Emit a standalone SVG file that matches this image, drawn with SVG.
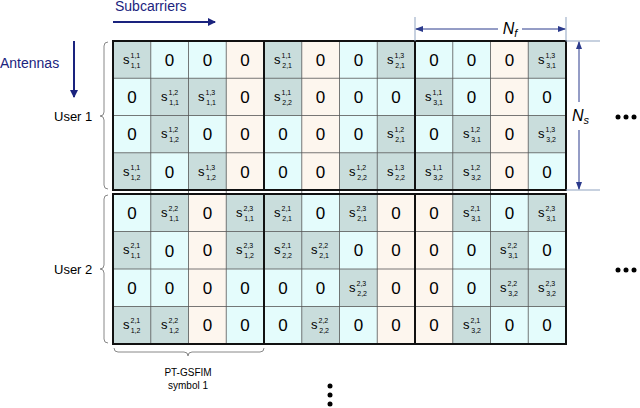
<svg xmlns="http://www.w3.org/2000/svg" width="640" height="408" viewBox="0 0 640 408">
<style>
text{font-family:"Liberation Sans",Arial,sans-serif;fill:#000}
.z{font-size:17px;text-anchor:middle}
.s{font-size:13px}
.sm{font-size:7px}
.c{fill:#e4fcfc}.p{fill:#fdf6ee}.g{fill:#c9dddc}
.thin{stroke:#555;stroke-width:0.8;fill:none}
.thick{stroke:#111;stroke-width:2;fill:none}
.blue{stroke:#1a237e;stroke-width:2;fill:none}
.dim{stroke:#2b3a8c;stroke-width:1;fill:none}
.ext{stroke:#8fa3c0;stroke-width:1;fill:none}
.brace{stroke:#888;stroke-width:1;fill:none}
.lbl{font-size:13px}
</style>
<defs>
<marker id="ah" markerWidth="8" markerHeight="8" refX="7" refY="4" orient="auto" markerUnits="userSpaceOnUse"><path d="M0,0 L8,4 L0,8 z" fill="#1a237e"/></marker>
<marker id="sh" markerWidth="8" markerHeight="6" refX="7" refY="3" orient="auto-start-reverse" markerUnits="userSpaceOnUse"><path d="M0,0 L8,3 L0,6 z" fill="#2b3a8c"/></marker>
</defs>
<g id="grid">
<rect x="113" y="41" width="453" height="149" class="c"/>
<rect x="113" y="194" width="453" height="150" class="c"/>
<rect x="226.25" y="41" width="37.75" height="149" class="p"/>
<rect x="301.75" y="41" width="37.75" height="149" class="p"/>
<rect x="490.5" y="41" width="37.75" height="149" class="p"/>
<rect x="188.5" y="194" width="37.75" height="150" class="p"/>
<rect x="377.25" y="194" width="75.5" height="150" class="p"/>
<g class="g">
<rect x="113" y="41" width="37.75" height="37.25"/><rect x="264" y="41" width="37.75" height="37.25"/><rect x="377.25" y="41" width="37.75" height="37.25"/><rect x="528.25" y="41" width="37.75" height="37.25"/>
<rect x="150.75" y="78.25" width="75.5" height="37.25"/><rect x="264" y="78.25" width="37.75" height="37.25"/><rect x="415" y="78.25" width="37.75" height="37.25"/>
<rect x="150.75" y="115.5" width="37.75" height="37.25"/><rect x="377.25" y="115.5" width="37.75" height="37.25"/><rect x="452.75" y="115.5" width="37.75" height="37.25"/><rect x="528.25" y="115.5" width="37.75" height="37.25"/>
<rect x="113" y="152.75" width="37.75" height="37.25"/><rect x="188.5" y="152.75" width="37.75" height="37.25"/><rect x="339.5" y="152.75" width="151" height="37.25"/>
<rect x="150.75" y="194" width="37.75" height="37.5"/><rect x="226.25" y="194" width="75.5" height="37.5"/><rect x="339.5" y="194" width="37.75" height="37.5"/><rect x="452.75" y="194" width="37.75" height="37.5"/><rect x="528.25" y="194" width="37.75" height="37.5"/>
<rect x="113" y="231.5" width="37.75" height="37.5"/><rect x="226.25" y="231.5" width="113.25" height="37.5"/><rect x="490.5" y="231.5" width="37.75" height="37.5"/>
<rect x="339.5" y="269" width="37.75" height="37.5"/><rect x="490.5" y="269" width="75.5" height="37.5"/>
<rect x="113" y="306.5" width="75.5" height="37.5"/><rect x="301.75" y="306.5" width="37.75" height="37.5"/><rect x="452.75" y="306.5" width="37.75" height="37.5"/>
</g>
<path class="thin" d="M150.75,41V344M188.5,41V344M226.25,41V344M301.75,41V344M339.5,41V344M377.25,41V344M452.75,41V344M490.5,41V344M528.25,41V344M113,78.25H566M113,115.5H566M113,152.75H566M113,231.5H566M113,269H566M113,306.5H566"/>
<path class="thick" d="M113,41H566V190H113ZM113,194H566V344H113ZM264,41V190M415,41V190M264,194V344M415,194V344"/>
</g>
<g id="cells">
<g class="z">
<text x="169.6" y="66">0</text><text x="207.4" y="66">0</text><text x="245.1" y="66">0</text><text x="320.6" y="66">0</text><text x="358.4" y="66">0</text><text x="433.9" y="66">0</text><text x="471.6" y="66">0</text><text x="509.4" y="66">0</text>
<text x="131.9" y="103">0</text><text x="245.1" y="103">0</text><text x="320.6" y="103">0</text><text x="358.4" y="103">0</text><text x="396.1" y="103">0</text><text x="471.6" y="103">0</text><text x="509.4" y="103">0</text><text x="547.1" y="103">0</text>
<text x="131.9" y="140">0</text><text x="207.4" y="140">0</text><text x="245.1" y="140">0</text><text x="282.9" y="140">0</text><text x="320.6" y="140">0</text><text x="358.4" y="140">0</text><text x="433.9" y="140">0</text><text x="509.4" y="140">0</text>
<text x="169.6" y="178">0</text><text x="245.1" y="178">0</text><text x="282.9" y="178">0</text><text x="320.6" y="178">0</text><text x="509.4" y="178">0</text><text x="547.1" y="178">0</text>
<text x="131.9" y="219">0</text><text x="207.4" y="219">0</text><text x="320.6" y="219">0</text><text x="396.1" y="219">0</text><text x="433.9" y="219">0</text><text x="509.4" y="219">0</text>
<text x="169.6" y="257">0</text><text x="207.4" y="256">0</text><text x="358.4" y="256">0</text><text x="396.1" y="256">0</text><text x="433.9" y="256">0</text><text x="471.6" y="256">0</text><text x="547.1" y="256">0</text>
<text x="131.9" y="294">0</text><text x="169.6" y="294">0</text><text x="207.4" y="294">0</text><text x="245.1" y="294">0</text><text x="282.9" y="294">0</text><text x="320.6" y="294">0</text><text x="396.1" y="294">0</text><text x="433.9" y="294">0</text><text x="471.6" y="294">0</text>
<text x="207.4" y="331">0</text><text x="245.1" y="331">0</text><text x="282.9" y="331">0</text><text x="358.4" y="331">0</text><text x="396.1" y="331">0</text><text x="433.9" y="331">0</text><text x="509.4" y="331">0</text><text x="547.1" y="331">0</text>
</g>
<g class="s">
<text x="123" y="64">s<tspan class="sm" dx="1" dy="-6">1,1</tspan><tspan class="sm" dx="-9" dy="10">1,1</tspan></text>
<text x="274" y="64">s<tspan class="sm" dx="1" dy="-6">1,1</tspan><tspan class="sm" dx="-9" dy="10">2,1</tspan></text>
<text x="387" y="64">s<tspan class="sm" dx="1" dy="-6">1,3</tspan><tspan class="sm" dx="-9" dy="10">2,1</tspan></text>
<text x="538" y="64">s<tspan class="sm" dx="1" dy="-6">1,3</tspan><tspan class="sm" dx="-9" dy="10">3,1</tspan></text>
<text x="161" y="101">s<tspan class="sm" dx="1" dy="-6">1,2</tspan><tspan class="sm" dx="-9" dy="10">1,1</tspan></text>
<text x="198" y="101">s<tspan class="sm" dx="1" dy="-6">1,3</tspan><tspan class="sm" dx="-9" dy="10">1,1</tspan></text>
<text x="274" y="101">s<tspan class="sm" dx="1" dy="-6">1,1</tspan><tspan class="sm" dx="-9" dy="10">2,2</tspan></text>
<text x="425" y="101">s<tspan class="sm" dx="1" dy="-6">1,1</tspan><tspan class="sm" dx="-9" dy="10">3,1</tspan></text>
<text x="161" y="138">s<tspan class="sm" dx="1" dy="-6">1,2</tspan><tspan class="sm" dx="-9" dy="10">1,2</tspan></text>
<text x="387" y="138">s<tspan class="sm" dx="1" dy="-6">1,2</tspan><tspan class="sm" dx="-9" dy="10">2,1</tspan></text>
<text x="463" y="138">s<tspan class="sm" dx="1" dy="-6">1,2</tspan><tspan class="sm" dx="-9" dy="10">3,1</tspan></text>
<text x="538" y="138">s<tspan class="sm" dx="1" dy="-6">1,3</tspan><tspan class="sm" dx="-9" dy="10">3,2</tspan></text>
<text x="123" y="176">s<tspan class="sm" dx="1" dy="-6">1,1</tspan><tspan class="sm" dx="-9" dy="10">1,2</tspan></text>
<text x="198" y="176">s<tspan class="sm" dx="1" dy="-6">1,3</tspan><tspan class="sm" dx="-9" dy="10">1,2</tspan></text>
<text x="349" y="176">s<tspan class="sm" dx="1" dy="-6">1,2</tspan><tspan class="sm" dx="-9" dy="10">2,2</tspan></text>
<text x="387" y="176">s<tspan class="sm" dx="1" dy="-6">1,3</tspan><tspan class="sm" dx="-9" dy="10">2,2</tspan></text>
<text x="425" y="176">s<tspan class="sm" dx="1" dy="-6">1,1</tspan><tspan class="sm" dx="-9" dy="10">3,2</tspan></text>
<text x="463" y="176">s<tspan class="sm" dx="1" dy="-6">1,2</tspan><tspan class="sm" dx="-9" dy="10">3,2</tspan></text>
<text x="161" y="217">s<tspan class="sm" dx="1" dy="-6">2,2</tspan><tspan class="sm" dx="-9" dy="10">1,1</tspan></text>
<text x="236" y="217">s<tspan class="sm" dx="1" dy="-6">2,3</tspan><tspan class="sm" dx="-9" dy="10">1,1</tspan></text>
<text x="274" y="217">s<tspan class="sm" dx="1" dy="-6">2,1</tspan><tspan class="sm" dx="-9" dy="10">2,1</tspan></text>
<text x="349" y="217">s<tspan class="sm" dx="1" dy="-6">2,3</tspan><tspan class="sm" dx="-9" dy="10">2,1</tspan></text>
<text x="463" y="217">s<tspan class="sm" dx="1" dy="-6">2,1</tspan><tspan class="sm" dx="-9" dy="10">3,1</tspan></text>
<text x="538" y="217">s<tspan class="sm" dx="1" dy="-6">2,3</tspan><tspan class="sm" dx="-9" dy="10">3,1</tspan></text>
<text x="123" y="254">s<tspan class="sm" dx="1" dy="-6">2,1</tspan><tspan class="sm" dx="-9" dy="10">1,1</tspan></text>
<text x="236" y="254">s<tspan class="sm" dx="1" dy="-6">2,3</tspan><tspan class="sm" dx="-9" dy="10">1,2</tspan></text>
<text x="274" y="254">s<tspan class="sm" dx="1" dy="-6">2,1</tspan><tspan class="sm" dx="-9" dy="10">2,2</tspan></text>
<text x="311" y="254">s<tspan class="sm" dx="1" dy="-6">2,2</tspan><tspan class="sm" dx="-9" dy="10">2,1</tspan></text>
<text x="500" y="254">s<tspan class="sm" dx="1" dy="-6">2,2</tspan><tspan class="sm" dx="-9" dy="10">3,1</tspan></text>
<text x="349" y="292">s<tspan class="sm" dx="1" dy="-6">2,3</tspan><tspan class="sm" dx="-9" dy="10">2,2</tspan></text>
<text x="500" y="292">s<tspan class="sm" dx="1" dy="-6">2,2</tspan><tspan class="sm" dx="-9" dy="10">3,2</tspan></text>
<text x="538" y="292">s<tspan class="sm" dx="1" dy="-6">2,3</tspan><tspan class="sm" dx="-9" dy="10">3,2</tspan></text>
<text x="123" y="329">s<tspan class="sm" dx="1" dy="-6">2,1</tspan><tspan class="sm" dx="-9" dy="10">1,2</tspan></text>
<text x="161" y="329">s<tspan class="sm" dx="1" dy="-6">2,2</tspan><tspan class="sm" dx="-9" dy="10">1,2</tspan></text>
<text x="311" y="329">s<tspan class="sm" dx="1" dy="-6">2,2</tspan><tspan class="sm" dx="-9" dy="10">2,2</tspan></text>
<text x="463" y="329">s<tspan class="sm" dx="1" dy="-6">2,1</tspan><tspan class="sm" dx="-9" dy="10">3,2</tspan></text>
</g>
</g>
<g id="connectors">
<line x1="113" y1="22" x2="215" y2="22" class="blue" marker-end="url(#ah)"/>
<line x1="74" y1="41" x2="74" y2="97" class="blue" marker-end="url(#ah)"/>
<path class="ext" d="M415,17V41M566,17V41M566,41H600M566,190H600"/>
<line x1="416" y1="29" x2="498" y2="29" class="dim" marker-start="url(#sh)"/>
<line x1="522" y1="29" x2="565" y2="29" class="dim" marker-end="url(#sh)"/>
<line x1="579" y1="42" x2="579" y2="102" class="dim" marker-start="url(#sh)"/>
<line x1="579" y1="130" x2="579" y2="189" class="dim" marker-end="url(#sh)"/>
<path class="brace" d="M108,42Q104,42 104,46V112Q104,116 100,116Q104,116 104,120V185Q104,189 108,189"/>
<path class="brace" d="M108,195Q104,195 104,199V265Q104,269 100,269Q104,269 104,273V339Q104,343 108,343"/>
<path class="brace" d="M114,348Q114,352 118,352H184Q188,352 188,356Q188,352 192,352H260Q264,352 264,348"/>
</g>
<g id="labels">
<text x="115" y="11" class="lbl" style="fill:#1a237e;font-size:14px">Subcarriers</text>
<text x="0" y="68" class="lbl" style="fill:#1a237e;font-size:14px">Antennas</text>
<text x="54" y="121" class="lbl">User 1</text>
<text x="54" y="274" class="lbl">User 2</text>
<text x="510" y="34" style="font-size:16px;font-style:italic;text-anchor:middle">N<tspan style="font-size:11px" dy="3">f</tspan></text>
<text x="572" y="121" style="font-size:16px;font-style:italic">N<tspan style="font-size:11px" dy="3">s</tspan></text>
<text x="188" y="376" style="font-size:10px;text-anchor:middle">PT-GSFIM</text>
<text x="188" y="389" style="font-size:10px;text-anchor:middle">symbol 1</text>
</g>
<g id="dots" fill="#000">
<circle cx="618" cy="117" r="2.5"/><circle cx="626" cy="117" r="2.5"/><circle cx="634" cy="117" r="2.5"/>
<circle cx="618" cy="270" r="2.5"/><circle cx="626" cy="270" r="2.5"/><circle cx="634" cy="270" r="2.5"/>
<circle cx="330" cy="386" r="2.5"/><circle cx="330" cy="395" r="2.5"/><circle cx="330" cy="404" r="2.5"/>
</g>
</svg>
